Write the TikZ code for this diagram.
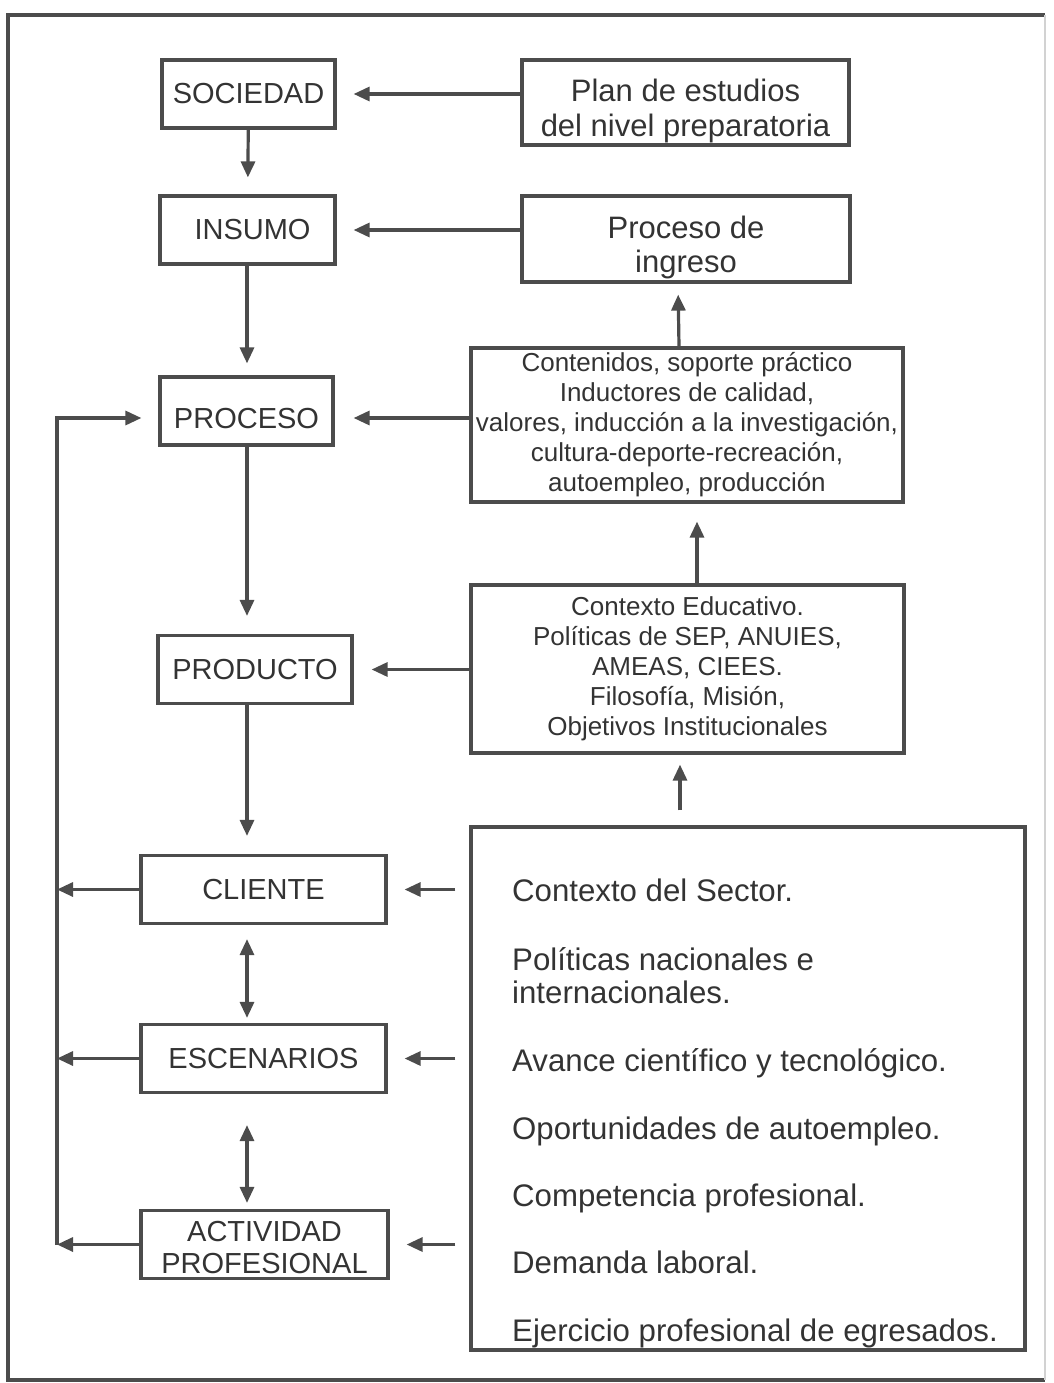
\documentclass[tikz,border=0pt]{standalone}
\usepackage{fontspec}
\setmainfont{Liberation Sans}
\usetikzlibrary{arrows.meta}
\definecolor{linea}{gray}{0.3}
\definecolor{letra}{gray}{0.2}
\tikzset{
  caja/.style={draw=linea, line width=3.2pt, text=letra, inner sep=0pt, align=center},
  izq/.style={caja, minimum height=68pt, font=\fontsize{29}{32}\selectfont},
  der/.style={caja, font=\fontsize{26}{30}\selectfont},
  item/.style={anchor=base west, text=letra, inner sep=0pt, align=left, font=\fontsize{31.2}{34}\selectfont},
  flecha/.style={draw=linea, line width=3.2pt, -{Triangle[length=16pt,width=14pt]}},
  doble/.style={draw=linea, line width=3.2pt, {Triangle[length=16pt,width=14pt]}-{Triangle[length=16pt,width=14pt]}},
}
\begin{document}
\begin{tikzpicture}[x=1pt,y=-1pt]
		\useasboundingbox (0,0) rectangle (1053,1383);
		\draw[linea, line width=3.2pt] (1045,15) -- (8,15) -- (8,1380) -- (1045,1380);
		\draw[linea!25, line width=2pt] (1045,15) -- (1045,1380);
		
		% columna izquierda
		\node[izq, minimum width=173pt] (sociedad) at (248.5,94) {SOCIEDAD};
		\node[izq, minimum width=175pt] (insumo) at (247.5,230) {\hspace{10pt}INSUMO};
		\node[izq, minimum width=173pt] (proceso) at (246.5,411) {\rule{0pt}{35pt}PROCESO};
		\node[izq, minimum width=194pt] (producto) at (255,669.5) {PRODUCTO};
		\node[izq, minimum width=245pt] (cliente) at (263.5,889.5) {CLIENTE};
		\node[izq, minimum width=245pt] (escenarios) at (263.5,1058.5) {ESCENARIOS};
		\node[izq, minimum width=247pt] (actividad) at (264.5,1244.5) {\rule{0pt}{27pt}ACTIVIDAD\\PROFESIONAL};
		\coordinate (eje) at (247,0);
		\coordinate (ret1) at (57,418);
		\coordinate (ret2) at (57,1245);
		
		% columna derecha
		\node[caja, minimum width=327pt, minimum height=85pt, font=\fontsize{31}{35}\selectfont] (plan) at (685.5,102.5) {\rule{0pt}{40pt}Plan de estudios\\del nivel preparatoria};
		\node[caja, minimum width=328pt, minimum height=86pt, font=\fontsize{31}{34}\selectfont] (ingreso) at (686,239) {\rule{0pt}{39pt}Proceso de\\ingreso};
		\node[der, minimum width=432pt, minimum height=154pt] (contenidos) at (687,425) {Contenidos, soporte práctico\\Inductores de calidad,\\valores, inducción a la investigación,\\cultura-deporte-recreación,\\autoempleo, producción};
		\node[der, minimum width=433pt, minimum height=168pt] (contexto) at (687.5,669) {Contexto Educativo.\\Políticas de SEP, ANUIES,\\AMEAS, CIEES.\\Filosofía, Misión,\\Objetivos Institucionales};
		\node[caja, minimum width=554pt, minimum height=523pt] (sector) at (748,1088.5) {};
		\node[item] (t1) at (512,901) {Contexto del Sector.};
		\node[item] (t2) at (512,970) {Políticas nacionales e};
		\node[item] (t3) at (512,1003) {internacionales.};
		\node[item] (t4) at (512,1071) {Avance científico y tecnológico.};
		\node[item] (t5) at (512,1139) {Oportunidades de autoempleo.};
		\node[item] (t6) at (512,1206) {Competencia profesional.};
		\node[item] (t7) at (512,1273) {Demanda laboral.};
		\node[item] (t8) at (512,1341) {Ejercicio profesional de egresados.};
		
		\draw[flecha, shorten >=17pt] (sociedad) -- (insumo);
		\draw[flecha, shorten >=12pt] (eje |- insumo.south) -- (eje |- proceso.north);
		\draw[flecha, shorten >=18pt] (eje |- proceso.south) -- (eje |- producto.north);
		\draw[flecha, shorten >=18pt] (eje |- producto.south) -- (eje |- cliente.north);
		\draw[doble, shorten <=14pt, shorten >=5pt] (eje |- cliente.south) -- (eje |- escenarios.north);
		\draw[doble, shorten <=31pt, shorten >=6pt] (eje |- escenarios.south) -- (eje |- actividad.north);
		
		\draw[flecha, shorten >=17pt] (plan.west |- sociedad.east) -- (sociedad.east);
		\draw[flecha, shorten >=17pt] (ingreso.west |- insumo.east) -- (insumo.east);
		\draw[flecha, shorten >=19pt] (contenidos.west |- ret1) -- (proceso.east |- ret1);
		\draw[flecha, shorten >=18pt] (contexto.west |- producto.east) -- (producto.east);
		\draw[flecha, shorten >=11pt] ([xshift=-8pt]contenidos.north) -- ([xshift=-8pt]ingreso.south);
		\draw[flecha, shorten >=18pt] ([xshift=9.5pt]contexto.north) -- ([xshift=9.5pt]contexto.north |- contenidos.south);
		\draw[flecha, shorten <=15pt, shorten >=10pt] ([xshift=-68pt]sector.north) -- ([xshift=-68pt]sector.north |- contexto.south);
		\draw[flecha, shorten <=14pt, shorten >=17pt] (sector.west |- cliente.east) -- (cliente.east);
		\draw[flecha, shorten <=14pt, shorten >=17pt] (sector.west |- escenarios.east) -- (escenarios.east);
		\draw[flecha, shorten <=14pt, shorten >=17pt] (sector.west |- actividad.east) -- (actividad.east);
		
		% retroalimentacion
		\draw[flecha, shorten >=17pt] (ret2) -- (ret1) -- (ret1 -| proceso.west);
		\draw[flecha] (cliente.west) -- (cliente.west -| ret1);
		\draw[flecha] (escenarios.west) -- (escenarios.west -| ret1);
		\draw[flecha] (actividad.west) -- (actividad.west -| ret1);
\end{tikzpicture}
\end{document}
